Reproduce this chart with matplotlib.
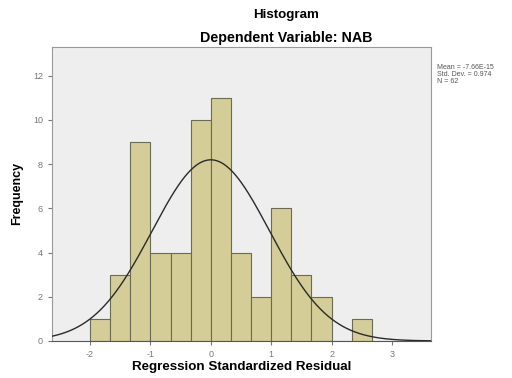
import numpy as np
import matplotlib
matplotlib.use("Agg")
import matplotlib.pyplot as plt

plt.rcParams["font.family"] = ["Liberation Sans", "DejaVu Sans"]
plt.rcParams["axes.unicode_minus"] = False

# Histogram data
bin_edges = [-2.0 + i / 3 for i in range(15)]
counts = [1, 3, 9, 4, 4, 10, 11, 4, 2, 6, 3, 2, 0, 1]
x_ticks = [-2, -1, 0, 1, 2, 3]
y_ticks = [0, 2, 4, 6, 8, 10, 12]
mean_val = 0.0
std_val = 0.974
stats_text = "Mean = -7.66E-15\nStd. Dev. = 0.974\nN = 62"

fig = plt.figure(figsize=(5.12, 3.78), dpi=100)
ax = fig.add_axes([0.1016, 0.098, 0.7406, 0.778])
ax.set_facecolor("#eeeeee")

lefts = bin_edges[:-1]
widths = np.diff(bin_edges)
ax.bar(lefts, counts, width=widths, align="edge", color="#d5cd98",
       edgecolor="#6b6a55", linewidth=0.8, zorder=2)

# Normal curve scaled to the histogram
bw = widths[0]
xs = np.linspace(-2.63, 3.65, 400)
ys = sum(counts) * bw * np.exp(-0.5 * ((xs - mean_val) / std_val) ** 2) / (std_val * np.sqrt(2 * np.pi))
ax.plot(xs, ys, color="#2a2a2a", linewidth=1.0, zorder=3)

ax.set_xlim(-2.63, 3.65)
ax.set_ylim(0, 13.3)
ax.set_xticks(x_ticks)
ax.set_yticks(y_ticks)
ax.tick_params(labelsize=6.5, colors="#777777", length=3, width=0.8)
for side in ["top", "right", "left", "bottom"]:
    ax.spines[side].set_color("#999999")
ax.spines["bottom"].set_color("#555555")

ax.set_xlabel("Regression Standardized Residual", fontsize=9.6, fontweight="bold", labelpad=1.5)
ax.set_ylabel("Frequency", fontsize=9, fontweight="bold", labelpad=7)

fig.text(0.558, 0.961, "Histogram", ha="center", va="center", fontsize=9.6, fontweight="bold")
fig.text(0.56, 0.899, "Dependent Variable: NAB", ha="center", va="center", fontsize=10.3, fontweight="bold")
fig.text(0.854, 0.832, stats_text, ha="left", va="top", fontsize=5, color="#555555", linespacing=1.0)

fig.savefig("out.png", dpi=100)
